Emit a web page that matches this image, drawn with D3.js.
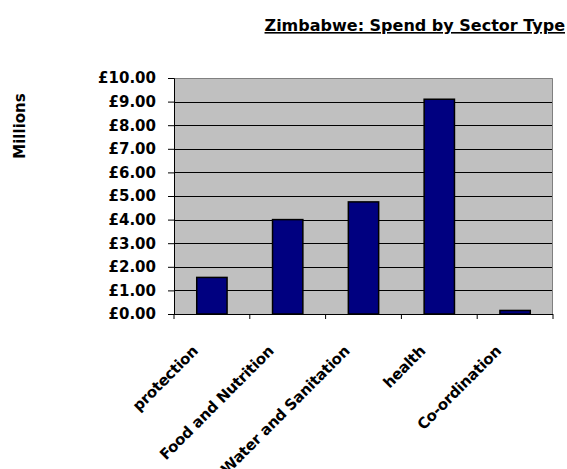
<!DOCTYPE html>
<html>
<head>
<meta charset="utf-8">
<script src="https://cdn.jsdelivr.net/npm/d3@7"></script>
<style>
  body { margin: 0; background: #fff; }
  svg text { font-family: "DejaVu Sans", Verdana, sans-serif; font-weight: bold; fill: #000; }
</style>
</head>
<body>
<div id="chart"></div>
<script>
'use strict';

// Дані
const sectors = ['protection', 'Food and Nutrition', 'Water and Sanitation', 'health', 'Co-ordination'];
const spend   = [1.55, 4.0, 4.75, 9.1, 0.15];
const yTicks  = [0, 1, 2, 3, 4, 5, 6, 7, 8, 9, 10];

const W = 567, H = 469;
const margin = { top: 78, right: 14, bottom: 155, left: 174 };
const width  = W - margin.left - margin.right;
const height = H - margin.top - margin.bottom;

const svg = d3.select('#chart').append('svg').attr('width', W).attr('height', H);

// Заголовок
svg.append('text').attr('x', 565).attr('y', 31).attr('text-anchor', 'end')
  .style('font-size', '16px').style('text-decoration', 'underline')
  .text('Zimbabwe: Spend by Sector Type');

svg.append('text').attr('transform', 'translate(25,126) rotate(-90)')
  .attr('text-anchor', 'middle').style('font-size', '15px').text('Millions');

const g = svg.append('g').attr('transform', `translate(${margin.left},${margin.top})`);

const x = d3.scaleBand().domain(sectors).range([0, width]).paddingInner(0.6).paddingOuter(0.3);
const y = d3.scaleLinear().domain([0, 10]).range([height, 0]);

// Фон
g.append('rect').attr('width', width).attr('height', height).attr('fill', '#c0c0c0');

// Сітка
g.append('g').selectAll('line').data(yTicks.slice(1, -1)).join('line')
  .attr('x1', 0).attr('x2', width)
  .attr('y1', d => Math.round(y(d)) + 0.5).attr('y2', d => Math.round(y(d)) + 0.5)
  .attr('stroke', '#000').attr('stroke-width', 1);

// Рамка
g.append('path').attr('d', `M0.5,0.5H${width - 0.5}V${height}`)
  .attr('fill', 'none').attr('stroke', '#808080');

// Стовпці
g.append('g').selectAll('rect').data(spend).join('rect')
  .attr('x', (d, i) => x(sectors[i]))
  .attr('y', d => y(d))
  .attr('width', x.bandwidth())
  .attr('height', d => height - y(d))
  .attr('fill', '#000080').attr('stroke', '#000').attr('stroke-width', 1.5);

// Осі
const yAxis = g.append('g')
  .call(d3.axisLeft(y).tickValues(yTicks).tickSize(6).tickPadding(12).tickFormat(d => '£' + d.toFixed(2)));
yAxis.selectAll('text').style('font-size', '15px');
yAxis.select('.domain').attr('stroke', '#000');

const xBand = d3.scalePoint().domain(d3.range(sectors.length + 1)).range([0, width]);
const xAxis = g.append('g').attr('transform', `translate(0,${height})`);
xAxis.append('line').attr('x1', 0).attr('x2', width).attr('y1', 0.5).attr('y2', 0.5).attr('stroke', '#000');
xAxis.selectAll('.tk').data(xBand.domain()).join('line').attr('class', 'tk')
  .attr('x1', d => xBand(d)).attr('x2', d => xBand(d)).attr('y1', 0).attr('y2', 5).attr('stroke', '#000');

xAxis.selectAll('.lbl').data(sectors).join('text').attr('class', 'lbl')
  .attr('text-anchor', 'end').style('font-size', '15px').style('letter-spacing', '-0.3px')
  .attr('transform', d => `translate(${x(d) + x.bandwidth() / 2 - 13},${38}) rotate(-45)`)
  .text(d => d);
</script>
</body>
</html>
